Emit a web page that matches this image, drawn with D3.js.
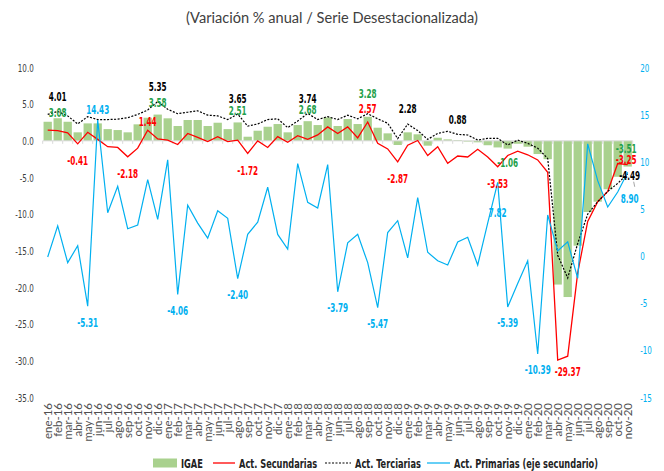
<!DOCTYPE html>
<html><head><meta charset="utf-8">
<script src="https://cdn.jsdelivr.net/npm/d3@7"></script>
<style>
html,body{margin:0;padding:0;background:#fff;}
svg{display:block;}
</style></head><body>
<svg id="chart" width="664" height="471"></svg>
<script>
const categories = [
 "ene-16","feb-16","mar-16","abr-16","may-16","jun-16","jul-16","ago-16","sep-16","oct-16","nov-16","dic-16",
 "ene-17","feb-17","mar-17","abr-17","may-17","jun-17","jul-17","ago-17","sep-17","oct-17","nov-17","dic-17",
 "ene-18","feb-18","mar-18","abr-18","may-18","jun-18","jul-18","ago-18","sep-18","oct-18","nov-18","dic-18",
 "ene-19","feb-19","mar-19","abr-19","may-19","jun-19","jul-19","ago-19","sep-19","oct-19","nov-19","dic-19",
 "ene-20","feb-20","mar-20","abr-20","may-20","jun-20","jul-20","ago-20","sep-20","oct-20","nov-20"];

const igae = [2.6,3.08,2.6,1.16,2.38,2.38,1.6,1.47,1.16,2.25,3.15,3.58,
 3.07,2.02,2.84,2.84,2.02,2.47,1.6,2.51,0.56,1.38,1.92,2.29,
 1.16,2.15,2.68,2.15,3.2,2.02,2.97,2.29,3.28,1.79,1.02,-0.57,
 1.16,0.89,-0.66,0.42,0.2,0.1,-0.1,-0.2,-0.6,-0.9,-1.06,-0.4,
 -0.8,-1.8,-2.5,-19.6,-21.3,-14.3,-9.7,-8.3,-6.6,-4.9,-3.51];

const secundarias = [1.47,1.38,1.1,-0.41,1.16,0.2,-0.8,-0.9,-2.18,-1.0,1.44,0.25,
 0.1,-0.5,1.0,0.48,-0.1,0.57,-0.1,0.1,-1.72,0.0,-0.9,0.57,
 -0.2,0.7,0.2,0.8,1.9,1.0,1.9,0.4,2.57,-0.35,-1.1,-2.87,
 -0.6,0.05,-2.0,-0.8,-3.07,-2.07,-2.2,-1.16,-2.2,-3.53,-2.0,-1.4,
 -1.9,-2.6,-4.3,-29.9,-29.37,-18.0,-11.0,-8.3,-6.9,-3.1,-3.25];

const terciarias = [3.6,4.01,3.4,2.3,3.3,2.9,2.9,2.95,3.15,3.6,4.2,5.35,
 4.3,3.7,3.9,4.1,3.5,3.4,2.9,3.65,2.0,2.3,2.9,3.0,
 1.8,2.7,3.74,2.9,3.3,2.9,3.5,3.0,3.7,3.0,2.4,0.3,
 2.28,1.4,0.2,1.0,1.3,0.88,0.8,0.1,0.34,0.34,-0.57,0.1,
 -0.34,-1.0,-2.4,-15.6,-18.7,-14.0,-10.0,-8.3,-6.9,-5.8,-4.49];

const primarias = [-0.1,3.2,-0.7,1.1,-5.31,14.43,4.6,7.4,2.9,3.3,8.1,3.9,
 10.2,-4.06,5.4,3.5,1.9,4.8,4.0,-2.40,2.3,3.6,7.3,2.3,
 0.75,9.8,5.7,5.1,9.7,-3.79,1.4,2.3,-0.7,-5.47,2.5,3.75,
 -0.2,6.2,0.4,-0.5,-0.95,1.5,2.0,-0.95,3.5,7.82,-5.39,-2.9,
 -0.5,-10.39,4.36,0.54,1.5,-2.36,11.9,8.0,5.2,6.8,8.90];

const leftTicks = [-35,-30,-25,-20,-15,-10,-5,0,5,10];
const rightTicks = [-15,-10,-5,0,5,10,15,20];

// indices of points that carry a data label
const labelsIgae = [1,11,19,26,32,46,58];
const labelsSec = [3,8,10,20,32,35,45,52,58];
const labelsTer = [1,11,19,26,36,41,58];
const labelsPri = [4,5,13,19,29,33,45,46,49,58];

const titleText = "(Variación % anual / Serie Desestacionalizada)";
const legendNames = ["IGAE","Act. Secundarias","Act. Terciarias","Act. Primarias (eje secundario)"];

// ---------- drawing ----------
const C_BAR = "#a9d18e", C_RED = "#ff0000", C_BLK = "#000000", C_BLUE = "#00b0f0", C_GREEN = "#1fa04b";
const LBL_FONT = "'Liberation Sans Narrow','DejaVu Sans Condensed',sans-serif";

const svg = d3.select("#chart");

// font-size fitting helper (matches text widths of the reference)
function fitSize(sample, target, family, weight) {
  const t = svg.append("text").style("font-family", family).style("font-size", "20px")
    .style("font-weight", weight).text(sample);
  const w = t.node().getComputedTextLength();
  t.remove();
  return 20 * target / w;
}
// condense a text: taller glyphs, same width as the fitted size
function condense(sel, bigSize, fitted) {
  sel.style("font-size", bigSize + "px");
  sel.each(function() {
    const L = this.getComputedTextLength();
    d3.select(this).attr("textLength", L * fitted / bigSize).attr("lengthAdjust", "spacingAndGlyphs");
  });
}
const lblSize = fitSize("-29.37", 26, LBL_FONT, "bold");
const legSize = fitSize("Act. Primarias (eje secundario)", 144, LBL_FONT, "bold");
const tickSize = fitSize("-35.0", 18.5, LBL_FONT, "normal");
const catSize = fitSize("ene-16", 36, "Lato, sans-serif", "normal");

const x = d3.scaleBand().domain(categories).range([42.7, 632.7]);
const bw = x.bandwidth();
const cx = c => x(c) + bw / 2;
const yL = d3.scaleLinear().domain([-35, 10]).range([397.5, 67.5]);
const yR = d3.scaleLinear().domain([-15, 20]).range([397.5, 67.5]);

// title
const title = svg.append("text").attr("x", 332).attr("y", 23).attr("text-anchor", "middle")
  .style("font-family", "Lato, 'Open Sans', sans-serif").style("font-size", "15px")
  .attr("fill", "#404040").text(titleText);
{
  const w = title.node().getComputedTextLength();
  title.style("font-size", (15 * 292 / w).toFixed(2) + "px");
}

// bars
svg.append("g").selectAll("rect").data(igae).join("rect")
  .attr("x", (d, i) => x(categories[i]) + bw * 0.085)
  .attr("width", bw * 0.83)
  .attr("y", d => Math.min(yL(d), yL(0)))
  .attr("height", d => Math.abs(yL(d) - yL(0)))
  .attr("fill", C_BAR);

// zero axis line and boundary ticks
const xa = svg.append("g");
xa.append("line").attr("x1", x.range()[0]).attr("x2", x.range()[1])
  .attr("y1", yL(0)).attr("y2", yL(0)).attr("stroke", "#d9d9d9").attr("stroke-width", 1);
xa.selectAll("line.tk").data(categories.concat([null])).join("line").attr("class", "tk")
  .attr("x1", d => d === null ? x.range()[1] : x(d)).attr("x2", d => d === null ? x.range()[1] : x(d))
  .attr("y1", yL(0)).attr("y2", yL(0) + 3).attr("stroke", "#d9d9d9").attr("stroke-width", 1);

// category labels
const xl = svg.append("g").attr("transform", "translate(0,400)")
  .call(d3.axisBottom(x).tickSize(0).tickPadding(0));
xl.select(".domain").remove();
xl.selectAll("text").attr("transform", "rotate(-90)").attr("text-anchor", "end")
  .attr("x", -3).attr("y", 0).attr("dy", "0.35em")
  .style("font-family", "Lato, 'Open Sans', sans-serif").style("font-size", catSize + "px").attr("fill", "#505050");

// left axis
const la = svg.append("g").attr("transform", "translate(42.7,0)")
  .call(d3.axisLeft(yL).tickValues(leftTicks).tickFormat(d => d.toFixed(1)).tickSize(0).tickPadding(9));
la.select(".domain").remove();
la.selectAll("text").style("font-family", LBL_FONT).attr("fill", "#404040");
condense(la.selectAll("text"), 11, tickSize);

// right axis
const ra = svg.append("g").attr("transform", "translate(632.7,0)")
  .call(d3.axisRight(yR).tickValues(rightTicks).tickFormat(d => String(d)).tickSize(0).tickPadding(7.5));
ra.select(".domain").remove();
ra.selectAll("text").style("font-family", LBL_FONT).attr("fill", C_BLUE);
condense(ra.selectAll("text"), 11, tickSize);

// lines
const lineL = d3.line().x((d, i) => cx(categories[i])).y(d => yL(d));
const lineR = d3.line().x((d, i) => cx(categories[i])).y(d => yR(d));
svg.append("path").attr("d", lineL(secundarias)).attr("fill", "none").attr("stroke", C_RED).attr("stroke-width", 1.3);
svg.append("path").attr("d", lineL(terciarias)).attr("fill", "none").attr("stroke", C_BLK).attr("stroke-width", 1.2).attr("stroke-dasharray", "2,1.5");
svg.append("path").attr("d", lineR(primarias)).attr("fill", "none").attr("stroke", C_BLUE).attr("stroke-width", 1.2);

// data labels
function addLabels(idx, values, scale, color, offsets) {
  const g = svg.append("g");
  idx.forEach(i => {
    const o = offsets[i] || offsets.def;
    g.append("text")
      .attr("x", cx(categories[i]) + (o[0] || 0))
      .attr("y", scale(values[i]) + o[1])
      .attr("dy", "0.35em").attr("text-anchor", "middle")
      .style("font-family", LBL_FONT).style("font-weight", "bold")
      .attr("fill", color).text(values[i].toFixed(2));
  });
  condense(g.selectAll("text"), 12.5, lblSize);
}
addLabels(labelsIgae, igae, yL, C_GREEN, {def: [0, -12], 1: [0, -6], 32: [0, -23], 46: [0, 14], 58: [-1.5, -18]});
addLabels(labelsSec, secundarias, yL, C_RED, {def: [0, 17], 10: [0, -8.5], 32: [0, -13], 52: [0, 15.5], 58: [-1.5, -4.6]});
addLabels(labelsTer, terciarias, yL, C_BLK, {def: [0, -15], 58: [2, 2]});
addLabels(labelsPri, primarias, yR, C_BLUE, {def: [0, 16], 5: [0, -10], 45: [0, 30.6], 58: [2, 26]});

// leader line of the last Terciarias label
svg.append("line").attr("x1", cx(categories[58]) + 6).attr("x2", cx(categories[58]) + 7)
  .attr("y1", yL(terciarias[58]) + 8).attr("y2", yL(terciarias[58]) + 13).attr("stroke", "#a6a6a6").attr("stroke-width", 1);

// legend
const lg = svg.append("g").style("font-family", LBL_FONT).style("font-weight", "bold").attr("fill", "#222");
const ly = 463;
lg.append("rect").attr("x", 153).attr("y", ly - 4.5).attr("width", 24).attr("height", 9).attr("fill", C_BAR);
lg.append("text").attr("x", 181).attr("y", ly).attr("dy", "0.35em").text(legendNames[0]);
lg.append("line").attr("x1", 213).attr("x2", 235).attr("y1", ly).attr("y2", ly).attr("stroke", C_RED).attr("stroke-width", 1.3);
lg.append("text").attr("x", 239).attr("y", ly).attr("dy", "0.35em").text(legendNames[1]);
lg.append("line").attr("x1", 325).attr("x2", 351).attr("y1", ly).attr("y2", ly).attr("stroke", C_BLK).attr("stroke-width", 1.2).attr("stroke-dasharray", "2,1.5");
lg.append("text").attr("x", 355).attr("y", ly).attr("dy", "0.35em").text(legendNames[2]);
lg.append("line").attr("x1", 427).attr("x2", 450).attr("y1", ly).attr("y2", ly).attr("stroke", C_BLUE).attr("stroke-width", 1.2);
lg.append("text").attr("x", 454).attr("y", ly).attr("dy", "0.35em").text(legendNames[3]);
condense(lg.selectAll("text"), 13, legSize);
</script>
</body></html>
